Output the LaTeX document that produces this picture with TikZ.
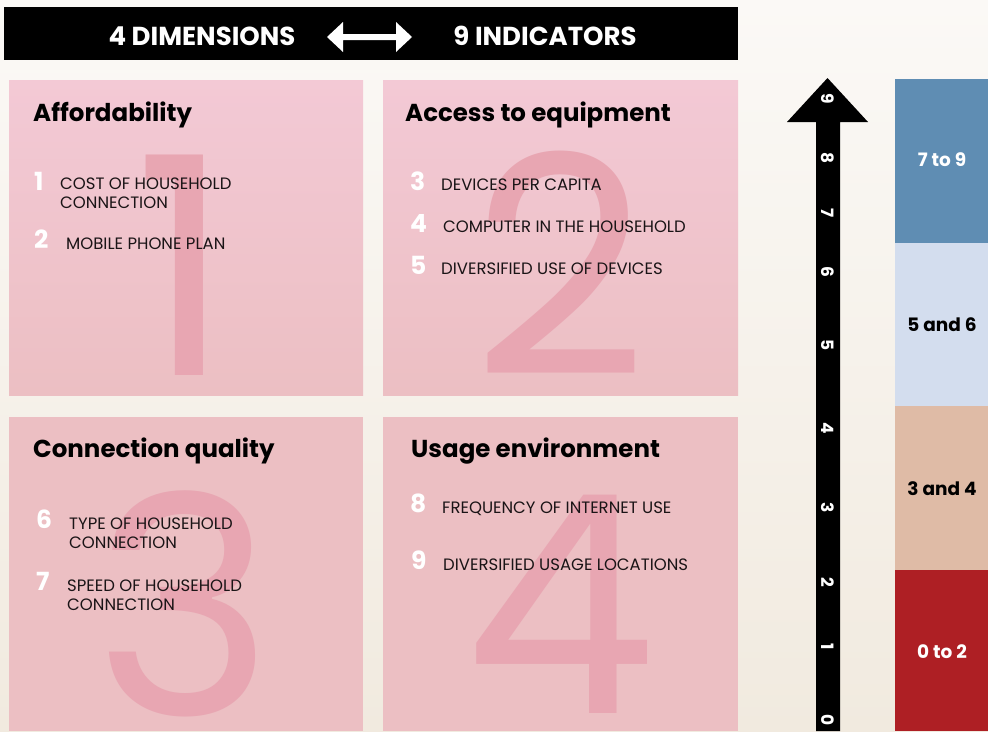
\documentclass[tikz,border=0pt]{standalone}
\usepackage{fontspec}
\setmainfont{Poppins}
\definecolor{bgtop}{HTML}{FBF9F6}
\definecolor{bgbot}{HTML}{F1EADF}
\definecolor{boxtop}{HTML}{F3C9D5}
\definecolor{boxbot}{HTML}{ECBFC3}
\definecolor{bignum}{HTML}{E8A6B2}
\definecolor{txt}{HTML}{1A1416}
\definecolor{lvlA}{HTML}{5F8DB3}
\definecolor{lvlB}{HTML}{D3DDEE}
\definecolor{lvlC}{HTML}{DFBBA6}
\definecolor{lvlD}{HTML}{AE1F24}
\tikzset{
  title/.style={anchor=base west,inner sep=0pt,font=\fontsize{24.5}{24.5}\selectfont\bfseries,text=black},
  num/.style={anchor=base west,inner sep=0pt,font=\fontsize{25}{25}\selectfont\bfseries,text=white},
  item/.style={anchor=base west,inner sep=0pt,font=\fontsize{16.5}{19}\selectfont,text=txt,align=left},
  big/.style={anchor=base,inner sep=0pt,font=\fontsize{305}{305}\selectfont,text=bignum},
  lvl/.style={inner sep=0pt,font=\fontsize{18.5}{18.5}\selectfont\bfseries},
  scalemark/.style={inner sep=0pt,rotate=-90,text=white},
  head/.style={inner sep=0pt,font=\fontsize{26}{26}\selectfont\bfseries,text=white}
}
\begin{document}
\begin{tikzpicture}[x=1pt,y=-1pt]
\useasboundingbox (0,0) rectangle (988,731);
\shade[top color=bgtop,bottom color=bgbot] (0,0) rectangle (988,731);
% header
\fill[black] (4,7) rectangle (738,60);
\node[head] (dim) at (202,36) {4 DIMENSIONS};
\node[head] (ind) at (545,36) {9 INDICATORS};
\fill[white] (327,37) -- (343,22) -- (343,34) -- (396,34) -- (396,22) -- (412,37) -- (396,52) -- (396,40) -- (343,40) -- (343,52) -- cycle;
% boxes
\shade[top color=boxtop,bottom color=boxbot] (9,80) rectangle (363,395);
\shade[top color=boxtop,bottom color=boxbot] (383,80) rectangle (738,395);
\fill[boxbot] (9,417) rectangle (363,731);
\fill[boxbot] (383,417) rectangle (738,731);
% big numbers
\node[big] (b1) at (183,375) {1};
\node[big] (b2) at (560,375) {2};
\node[big] (b3) at (184,715) {3};
\node[big] (b4) at (560,713) {4};
% box 1
\node[title] (t1) at (33,121) {Affordability};
\node[num] (n1) at (34,190) {1};
\node[item] (i1) at (60,208) {COST OF HOUSEHOLD\\CONNECTION};
\node[num] (n2) at (34,248) {2};
\node[item] (i2) at (66,249) {MOBILE PHONE PLAN};
% box 2
\node[title] (t2) at (405,121) {Access to equipment};
\node[num] (n3) at (410,190) {3};
\node[item] (i3) at (441,190) {DEVICES PER CAPITA};
\node[num] (n4) at (410,232) {4};
\node[item] (i4) at (443,232) {COMPUTER IN THE HOUSEHOLD};
\node[num] (n5) at (410,274) {5};
\node[item] (i5) at (441,274) {DIVERSIFIED USE OF DEVICES};
% box 3
\node[title] (t3) at (33,457) {Connection quality};
\node[num] (n6) at (36,528) {6};
\node[item] (i6) at (69,548) {TYPE OF HOUSEHOLD\\CONNECTION};
\node[num] (n7) at (36,590) {7};
\node[item] (i7) at (67,610) {SPEED OF HOUSEHOLD\\CONNECTION};
% box 4
\node[title] (t4) at (411,457) {Usage environment};
\node[num] (n8) at (410,512) {8};
\node[item] (i8) at (442,513) {FREQUENCY OF INTERNET USE};
\node[num] (n9) at (411,569) {9};
\node[item] (i9) at (443,570) {DIVERSIFIED USAGE LOCATIONS};
% scale arrow
\fill[black] (816,731) -- (816,122) -- (787,122) -- (827.5,78) -- (868,122) -- (840,122) -- (840,731) -- cycle;
\foreach \v/\y in {9/99,8/158,7/213,6/272,5/345,4/428,3/508,2/582,1/647,0/720}
  \node[scalemark] (k\v) at (828,\y) {\fontsize{17}{17}\selectfont\bfseries\v};
% levels
\fill[lvlA] (895,79) rectangle (988,243);
\fill[lvlB] (895,243) rectangle (988,406);
\fill[lvlC] (895,406) rectangle (988,570);
\fill[lvlD] (895,570) rectangle (988,731);
\node[lvl,text=white] (l1) at (942,160) {7 to 9};
\node[lvl,text=black] (l2) at (942,325) {5 and 6};
\node[lvl,text=black] (l3) at (942,489) {3 and 4};
\node[lvl,text=white] (l4) at (942,652) {0 to 2};
\end{tikzpicture}
\end{document}
